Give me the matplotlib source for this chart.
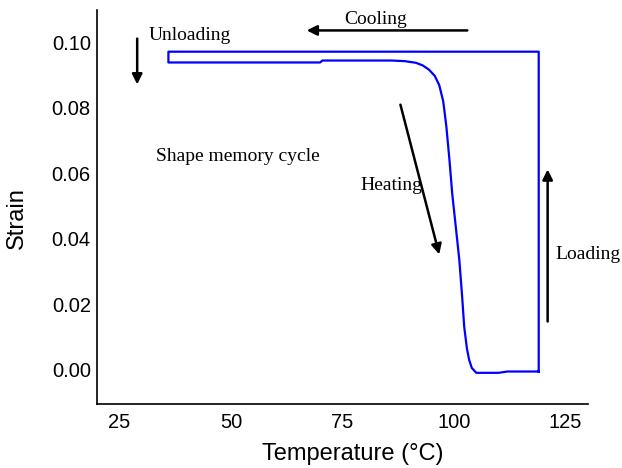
import matplotlib.pyplot as plt

# shape memory cycle path: loading -> cooling -> unloading -> heating
temp = [119, 119, 36, 36, 70, 70.5, 86, 89, 91.5, 93, 94.4, 95.7, 96.7, 97.6, 98.3,
        99.0, 99.6, 100.4, 101.2, 101.8, 102.3, 102.9, 103.4, 104.0, 105.0, 110, 112, 119]
strain = [-0.0006, 0.0972, 0.0972, 0.0939, 0.0939, 0.0945, 0.0945, 0.0943, 0.0938, 0.0930, 0.0917,
          0.0898, 0.0870, 0.0820, 0.0743, 0.0640, 0.0540, 0.0438, 0.0336, 0.0230, 0.0131,
          0.0065, 0.0030, 0.0005, -0.0010, -0.0010, -0.0006, -0.0006]

xticks = [25, 50, 75, 100, 125]
yticks = [0.00, 0.02, 0.04, 0.06, 0.08, 0.10]

fig = plt.figure(figsize=(6.22, 4.68), dpi=100)
ax = fig.add_axes([0.156, 0.137, 0.789, 0.842])

ax.plot(temp, strain, color='#0000ff', linewidth=1.6)

ax.set_xlim(20, 130)
ax.set_ylim(-0.0105, 0.110)
ax.set_xticks(xticks)
ax.set_yticks(yticks)
ax.set_yticklabels(['%.2f' % v for v in yticks])
ax.tick_params(length=0, labelsize=14.5)
ax.tick_params(axis='x', pad=6.5)
ax.tick_params(axis='y', pad=4.5)
for lab in ax.get_xticklabels() + ax.get_yticklabels():
    lab.set_family('Liberation Sans')
for s in ['top', 'right']:
    ax.spines[s].set_visible(False)
for s in ['left', 'bottom']:
    ax.spines[s].set_linewidth(1.2)

ax.set_xlabel('Temperature (°C)', fontsize=17, family='Liberation Sans')
ax.set_ylabel('Strain', fontsize=17, family='Liberation Sans')
ax.xaxis.set_label_coords(0.521, -0.099)
ax.yaxis.set_label_coords(-0.141, 0.472)

arr = dict(arrowstyle='-|>', color='black', lw=1.8, mutation_scale=15, shrinkA=0, shrinkB=0)
ax.annotate('', xy=(29, 0.0872), xytext=(29, 0.1012), arrowprops=arr)
ax.annotate('', xy=(67, 0.1037), xytext=(103, 0.1037), arrowprops=arr)
ax.annotate('', xy=(96.7, 0.0352), xytext=(88, 0.081), arrowprops=arr)
ax.annotate('', xy=(121, 0.0612), xytext=(121, 0.0147), arrowprops=arr)

tf = dict(family='Liberation Serif', fontsize=14)
ax.text(31.5, 0.1023, 'Unloading', ha='left', va='center', **tf)
ax.text(82.5, 0.107, 'Cooling', ha='center', va='center', **tf)
ax.text(33.3, 0.0651, 'Shape memory cycle', ha='left', va='center', **tf)
ax.text(86, 0.0563, 'Heating', ha='center', va='center', **tf)
ax.text(122.8, 0.0352, 'Loading', ha='left', va='center', **tf)

plt.savefig('out.png', dpi=100)
